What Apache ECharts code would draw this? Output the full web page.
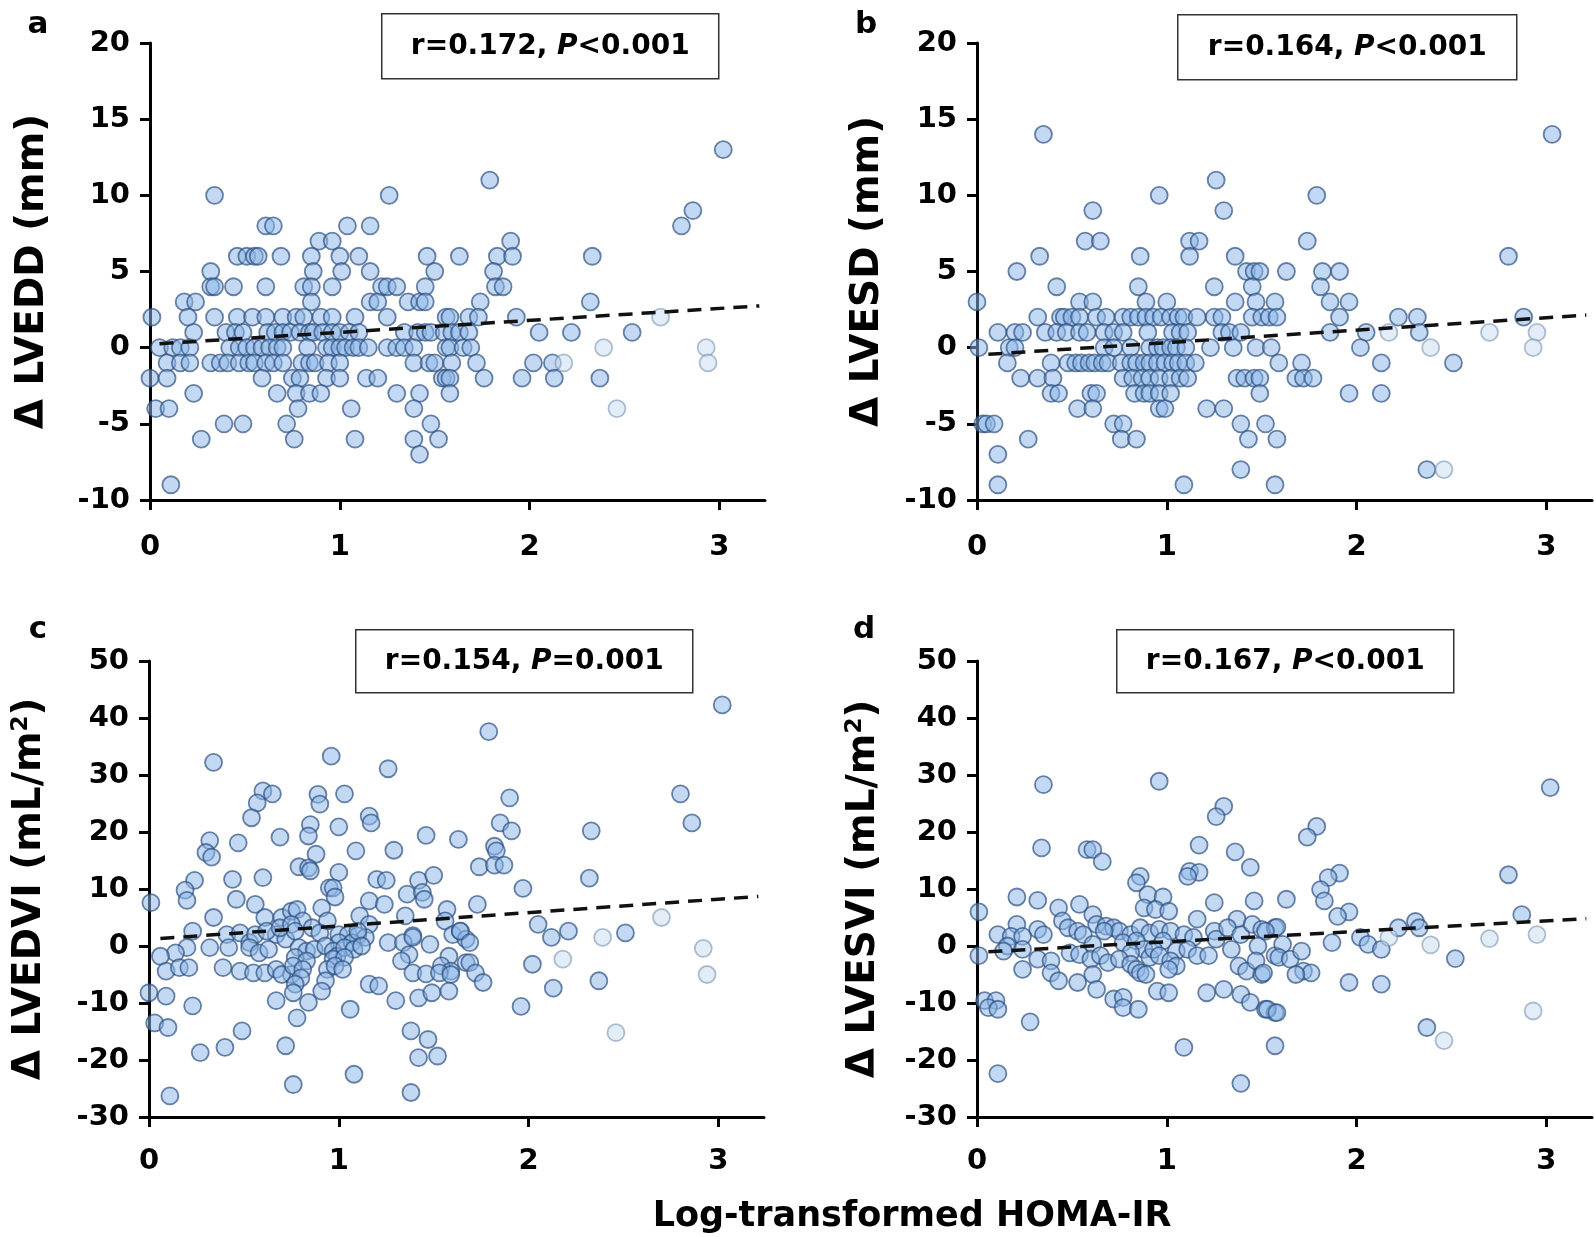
<!DOCTYPE html>
<html>
<head>
<meta charset="utf-8">
<script src="https://cdn.jsdelivr.net/npm/echarts@6/dist/echarts.min.js"></script>
<style>
  html, body { margin: 0; padding: 0; background: #fff; }
  #chart { width: 1594px; height: 1237px; }
</style>
</head>
<body>
<div id="chart"></div>
<script>
// x ticks shared by all panels
var xTicks = [0, 1, 2, 3];

// panel a: delta LVEDD (mm)
var ptsA = [
  [1.79,11],[0.34,10],[1.26,10],[3.02,13],[2.86,9],
  [0.61,8],[0.65,8],[1.04,8],[1.16,8],[2.80,8],
  [0.89,7],[0.96,7],[1.90,7],
  [0.46,6],[0.51,6],[0.55,6],[0.57,6],[0.69,6],[0.85,6],[1.0,6],[1.10,6],[1.46,6],[1.63,6],[1.83,6],[1.91,6],[2.33,6],
  [0.32,5],[0.86,5],[1.01,5],[1.16,5],[1.50,5],[1.81,5],
  [0.32,4],[0.34,4],[0.44,4],[0.61,4],[0.81,4],[0.85,4],[0.96,4],[1.22,4],[1.25,4],[1.30,4],[1.45,4],[1.82,4],[1.86,4],
  [0.18,3],[0.24,3],[0.85,3],[1.16,3],[1.20,3],[1.36,3],[1.42,3],[1.45,3],[1.74,3],[2.32,3],
  [0.01,2],[0.20,2],[0.34,2],[0.46,2],[0.54,2],[0.61,2],[0.70,2],[0.77,2],[0.81,2],[0.90,2],[0.96,2],[1.08,2],[1.25,2],[1.56,2],[1.58,2],[1.68,2],[1.73,2],[1.93,2],
  [0.23,1],[0.40,1],[0.45,1],[0.49,1],[0.62,1],[0.66,1],[0.70,1],[0.74,1],[0.79,1],[0.84,1],[0.86,1],[0.91,1],[0.96,1],[1.0,1],[1.05,1],[1.10,1],[1.34,1],[1.41,1],[1.45,1],[1.48,1],[1.55,1],[1.59,1],[1.63,1],[1.68,1],[2.05,1],[2.22,1],[2.54,1],
  [0.05,0],[0.12,0],[0.16,0],[0.21,0],[0.42,0],[0.47,0],[0.51,0],[0.55,0],[0.59,0],[0.63,0],[0.67,0],[0.70,0],[0.83,0],[0.93,0],[0.96,0],[1.0,0],[1.03,0],[1.07,0],[1.10,0],[1.15,0],[1.25,0],[1.30,0],[1.34,0],[1.39,0],[1.56,0],[1.58,0],[1.65,0],[1.69,0],
  [0.09,-1],[0.16,-1],[0.21,-1],[0.32,-1],[0.37,-1],[0.41,-1],[0.47,-1],[0.52,-1],[0.55,-1],[0.61,-1],[0.65,-1],[0.70,-1],[0.80,-1],[0.84,-1],[0.87,-1],[0.94,-1],[1.0,-1],[1.39,-1],[1.47,-1],[1.50,-1],[1.59,-1],[1.72,-1],[2.02,-1],[2.12,-1],
  [0.0,-2],[0.09,-2],[0.59,-2],[0.75,-2],[0.79,-2],[0.93,-2],[1.0,-2],[1.14,-2],[1.20,-2],[1.54,-2],[1.56,-2],[1.58,-2],[1.76,-2],[1.96,-2],[2.13,-2],[2.37,-2],
  [0.23,-3],[0.67,-3],[0.77,-3],[0.84,-3],[0.90,-3],[1.30,-3],[1.42,-3],[1.58,-3],
  [0.03,-4],[0.10,-4],[0.78,-4],[1.06,-4],[1.39,-4],
  [0.39,-5],[0.49,-5],[0.72,-5],[1.48,-5],
  [0.27,-6],[0.76,-6],[1.08,-6],[1.39,-6],[1.52,-6],
  [1.42,-7],[0.11,-9]
];
var lightA = [[2.69,2],[2.39,0],[2.93,0],[2.18,-1],[2.94,-1],[2.46,-4]];
var trendA = [[0.05,0.26],[3.21,2.74]];

// panel b: delta LVESD (mm)
var ptsB = [
  [0.35,14],[3.03,14],[1.26,11],[0.96,10],[1.79,10],[0.61,9],[1.30,9],
  [0.57,7],[0.65,7],[1.12,7],[1.17,7],[1.74,7],
  [0.33,6],[0.86,6],[1.12,6],[1.36,6],[2.80,6],
  [0.21,5],[1.42,5],[1.46,5],[1.49,5],[1.63,5],[1.82,5],[1.91,5],
  [0.42,4],[0.85,4],[1.25,4],[1.45,4],[1.81,4],
  [0.0,3],[0.54,3],[0.61,3],[0.89,3],[1.0,3],[1.36,3],[1.47,3],[1.57,3],[1.86,3],[1.96,3],
  [0.32,2],[0.44,2],[0.46,2],[0.50,2],[0.54,2],[0.63,2],[0.68,2],[0.77,2],[0.81,2],[0.85,2],[0.89,2],[0.93,2],[0.97,2],[1.02,2],[1.06,2],[1.09,2],[1.16,2],[1.25,2],[1.29,2],[1.45,2],[1.50,2],[1.54,2],[1.58,2],[1.91,2],[2.22,2],[2.32,2],[2.88,2],
  [0.11,1],[0.20,1],[0.24,1],[0.36,1],[0.42,1],[0.47,1],[0.54,1],[0.58,1],[0.67,1],[0.72,1],[0.77,1],[0.90,1],[1.03,1],[1.07,1],[1.11,1],[1.29,1],[1.33,1],[1.39,1],[1.86,1],[2.05,1],[2.33,1],
  [0.01,0],[0.17,0],[0.20,0],[0.67,0],[0.72,0],[0.81,0],[0.91,0],[0.95,0],[0.98,0],[1.02,0],[1.05,0],[1.10,0],[1.23,0],[1.35,0],[1.47,0],[1.55,0],[2.02,0],
  [0.16,-1],[0.39,-1],[0.48,-1],[0.52,-1],[0.55,-1],[0.59,-1],[0.62,-1],[0.66,-1],[0.69,-1],[0.76,-1],[0.81,-1],[0.84,-1],[0.88,-1],[0.91,-1],[0.95,-1],[0.99,-1],[1.03,-1],[1.06,-1],[1.10,-1],[1.15,-1],[1.59,-1],[1.71,-1],[2.13,-1],[2.51,-1],
  [0.23,-2],[0.32,-2],[0.40,-2],[0.77,-2],[0.82,-2],[0.87,-2],[0.91,-2],[0.96,-2],[1.02,-2],[1.07,-2],[1.11,-2],[1.37,-2],[1.41,-2],[1.46,-2],[1.49,-2],[1.68,-2],[1.72,-2],[1.77,-2],
  [0.39,-3],[0.43,-3],[0.60,-3],[0.63,-3],[0.83,-3],[0.88,-3],[0.91,-3],[0.96,-3],[1.02,-3],[1.49,-3],[1.96,-3],[2.13,-3],
  [0.53,-4],[0.61,-4],[0.96,-4],[0.99,-4],[1.21,-4],[1.30,-4],
  [0.03,-5],[0.05,-5],[0.09,-5],[0.72,-5],[0.77,-5],[1.39,-5],[1.52,-5],
  [0.27,-6],[0.76,-6],[0.84,-6],[1.43,-6],[1.58,-6],
  [0.11,-7],[1.39,-8],[2.37,-8],
  [0.11,-9],[1.09,-9],[1.57,-9]
];
var lightB = [[2.17,1],[2.70,1],[2.95,1],[2.39,0],[2.93,0],[2.46,-8]];
var trendB = [[0.06,-0.44],[3.21,2.14]];

// panel c: delta LVEDVI (mL/m2)
var ptsC = [
  [0.34,32.2],[0.96,33.3],[1.26,31.1],[1.79,37.6],[3.02,42.3],
  [0.60,27.2],[0.65,26.7],[0.57,25.1],[0.54,22.5],[0.89,26.6],[0.90,24.9],[1.03,26.7],
  [0.85,21.3],[0.84,19.3],[1.0,20.9],[1.16,22.8],[1.17,21.6],[0.69,19.1],[1.46,19.4],[1.63,18.7],
  [0.32,18.5],[0.30,16.4],[0.33,15.6],[0.47,18.1],[1.09,16.7],[1.29,16.8],
  [0.88,16.1],[0.79,13.9],[0.84,13.7],[0.85,13.2],[1.0,12.9],
  [0.95,10.2],[0.97,10.2],[0.98,8.6],[1.20,11.7],[1.25,11.5],[1.42,11.5],[1.50,12.4],
  [0.24,11.5],[0.19,9.8],[0.20,8.0],[0.44,11.7],[0.60,12.0],[0.46,8.2],[0.56,7.3],[0.01,7.6],
  [1.36,9.1],[1.44,9.4],[1.45,8.2],[1.16,7.9],[1.24,7.3],[0.91,6.7],
  [0.34,5.0],[0.61,5.0],[0.70,5.0],[0.75,6.1],[0.78,6.4],[0.81,4.4],[0.94,4.4],[1.11,5.3],[1.16,3.8],[1.35,5.3],[1.57,6.4],[1.56,4.4],
  [0.23,2.6],[0.41,2.0],[0.48,2.3],[0.67,2.0],[0.72,1.2],[1.0,2.0],[1.05,2.0],[1.10,1.8],[1.14,1.5],[1.39,1.8],[1.60,2.0],[1.64,2.6],[1.67,1.2],
  [0.53,0.6],[0.56,2.0],[0.62,2.6],[0.69,3.2],[0.75,3.8],[0.77,2.6],[0.86,3.2],[0.90,2.3],[1.0,0.6],[1.07,0.6],[1.10,2.6],
  [0.32,-0.3],[0.20,-0.3],[0.14,-1.2],[0.06,-1.8],[0.42,-0.3],[0.53,-0.3],[0.58,-1.2],[0.63,-0.6],
  [0.79,-0.3],[0.83,-0.9],[0.87,-0.6],[0.93,0],[0.97,-0.9],[0.99,-1.8],[1.03,-0.3],[1.08,-0.6],[1.12,0],
  [0.97,-2.3],[1.03,-2.0],[0.77,-2.0],[0.75,-5.0],[0.83,-2.6],
  [1.26,0.6],[1.34,0.6],[1.39,1.5],[1.48,0.3],[1.37,-1.5],[1.33,-2.6],[1.58,-1.8],[1.54,-3.5],[1.59,-4.4],[1.67,-2.9],
  [0.09,-4.4],[0.16,-3.8],[0.21,-3.8],[0.39,-3.8],[0.48,-4.4],[0.55,-4.7],[0.61,-4.7],[0.67,-4.1],[0.70,-5.0],
  [0.76,-3.5],[0.81,-4.1],[0.80,-5.6],[0.94,-4.1],[0.98,-3.5],[1.02,-4.1],
  [1.39,-4.7],[1.46,-4.9],[1.53,-4.7],[1.59,-5.0],
  [0.93,-6.1],[0.77,-6.7],[0.76,-8.2],[0.91,-7.9],[1.16,-6.7],[1.21,-7.0],
  [0.0,-8.2],[0.09,-8.8],[0.23,-10.5],[0.67,-9.6],[0.84,-9.9],[1.06,-11.1],[1.30,-9.6],[1.42,-9.1],[1.49,-8.2],[1.58,-7.9],
  [0.78,-12.6],[0.03,-13.5],[0.10,-14.3],[0.49,-14.9],[0.40,-17.8],[0.27,-18.7],[0.72,-17.5],
  [1.38,-14.9],[1.47,-16.4],[1.52,-19.3],[1.42,-19.6],[1.08,-22.5],[0.76,-24.3],[1.38,-25.7],[0.11,-26.3],
  [1.90,26.0],[1.85,21.6],[1.91,20.2],[1.82,17.5],[1.83,16.7],[1.74,13.9],[1.82,14.2],[1.87,14.2],
  [2.33,20.2],[2.32,11.9],[2.80,26.7],[2.86,21.6],[1.97,10.1],[1.73,7.3],
  [2.05,3.8],[1.64,2.6],[1.69,0.6],[2.12,1.5],[2.21,2.6],[2.51,2.3],
  [1.69,-2.9],[1.72,-4.7],[1.76,-6.4],[2.02,-3.2],[2.37,-6.1],[2.13,-7.4],[1.96,-10.6]
];
var lightC = [[2.39,1.5],[2.70,5.0],[2.92,-0.4],[2.94,-5.0],[2.18,-2.3],[2.46,-15.2]];
var trendC = [[0.06,1.3],[3.21,8.7]];

// panel d: delta LVESVI (mL/m2)
var ptsD = [
  [0.35,28.3],[0.96,28.9],[1.30,24.5],[1.26,22.7],[3.02,27.8],
  [0.34,17.2],[0.58,16.9],[0.61,16.9],[0.66,14.8],[1.17,17.7],[1.36,16.5],[1.44,13.8],
  [0.86,12.2],[0.84,11.1],[1.12,13.1],[1.17,12.9],[1.11,12.2],
  [0.21,8.6],[0.32,8.0],[0.90,9.0],[0.98,8.6],[1.25,7.6],[1.46,7.9],
  [0.01,6.0],[0.43,6.7],[0.54,7.3],[0.61,5.5],[0.88,6.7],[0.94,6.4],[1.01,6.1],[1.16,4.7],[1.37,4.7],
  [0.21,3.8],[0.32,2.9],[0.35,2.0],[0.11,2.0],[0.18,1.7],[0.24,1.7],[0.45,4.4],[0.48,3.2],[0.53,2.6],
  [0.63,3.8],[0.68,3.5],[0.72,3.2],[0.75,2.6],[0.81,2.0],[0.86,3.2],[0.91,2.3],[0.96,2.9],[1.02,2.6],[1.09,2.0],[1.14,1.5],
  [1.25,2.6],[1.26,1.2],[1.32,3.2],[1.39,2.0],[1.45,3.8],[1.50,2.9],[1.57,3.2],
  [0.67,2.6],[0.77,0.6],[0.84,0.9],[0.88,-0.6],[0.81,-1.2],[0.98,0.9],[1.05,-0.9],[0.91,-2.0],[0.56,2.0],[0.61,0.3],
  [0.16,0],[0.24,-0.6],[0.14,-0.9],[0.01,-1.7],[0.32,-2.3],[0.39,-2.6],
  [0.49,-1.2],[0.54,-1.5],[0.60,-2.3],[0.65,-1.7],[0.69,-2.9],[0.75,-2.3],[0.81,-3.2],[0.84,-4.1],
  [0.93,-0.6],[0.96,-1.7],[1.02,-2.6],[1.05,-3.5],[1.11,-0.6],[1.16,-1.7],[1.22,-1.7],
  [1.34,-0.6],[1.48,0],[1.57,-1.7],
  [0.24,-4.1],[0.39,-4.7],[0.43,-6.1],[0.53,-6.4],[0.61,-5.0],[0.63,-7.6],
  [0.86,-4.7],[0.89,-5.0],[1.01,-4.1],[0.95,-7.9],[1.01,-8.2],
  [1.38,-3.5],[1.42,-4.4],[1.47,-2.6],[1.50,-5.0],
  [1.21,-8.2],[1.30,-7.6],[1.39,-8.5],[1.44,-9.9],[1.52,-11.1],[1.57,-11.7],
  [0.04,-9.6],[0.10,-9.6],[0.06,-10.8],[0.11,-11.1],
  [0.72,-9.3],[0.77,-9.0],[0.77,-10.8],[0.85,-11.1],
  [0.28,-13.3],[1.09,-17.8],[1.57,-17.5],[0.11,-22.4],[1.39,-24.1],
  [1.79,21.0],[1.74,19.1],[1.91,12.8],[1.85,12.0],[1.81,9.9],[1.83,7.9],[1.63,8.2],
  [1.96,6.0],[1.90,5.2],[2.80,12.5],[2.87,5.5],
  [2.31,4.3],[2.33,3.2],[2.22,3.2],[2.52,-2.2],
  [2.02,1.5],[2.06,0.3],[2.13,-0.6],[1.87,0.6],[1.58,3.3],[1.61,0.3],[1.52,2.6],
  [1.59,-2.0],[1.65,-2.3],[1.71,-0.9],[1.72,-4.4],[1.76,-4.7],[1.68,-5.0],[1.51,-4.7],
  [1.96,-6.4],[2.13,-6.7],[1.53,-11.1],[1.58,-11.7],[2.37,-14.3]
];
var lightD = [[2.95,2.0],[2.70,1.3],[2.17,1.5],[2.39,0.2],[2.46,-16.6],[2.93,-11.4]];
var trendD = [[0.06,-1.0],[3.21,4.8]];

var FONT = 'DejaVu Sans';
var chart = echarts.init(document.getElementById('chart'));

var grids = [
  { left: 150, top: 43, width: 615, height: 457 },
  { left: 977, top: 43, width: 615, height: 457 },
  { left: 149, top: 661, width: 615, height: 456 },
  { left: 977, top: 661, width: 615, height: 456 }
];

function xAx(i, margin) {
  return {
    gridIndex: i, type: 'value', min: 0, max: 3.24,
    axisLine: { onZero: false, lineStyle: { color: '#000', width: 3 } },
    axisTick: { customValues: xTicks, length: 10, lineStyle: { color: '#000', width: 3 } },
    axisLabel: { customValues: xTicks, margin: margin, color: '#000', fontFamily: FONT, fontWeight: 'bold', fontSize: 29 },
    splitLine: { show: false }
  };
}

function yAx(i, min, max, interval, name, gap) {
  return {
    gridIndex: i, type: 'value', min: min, max: max, interval: interval,
    name: name, nameLocation: 'middle', nameGap: gap,
    nameTextStyle: {
      color: '#000', fontFamily: FONT, fontWeight: 'bold', fontSize: 39,
      rich: { sup: { fontFamily: FONT, fontWeight: 'bold', fontSize: 23, verticalAlign: 'top', padding: [0, 0, 14, 0] } }
    },
    axisLine: { onZero: false, lineStyle: { color: '#000', width: 3 } },
    axisTick: { length: 10, lineStyle: { color: '#000', width: 3 } },
    axisLabel: { margin: 20, color: '#000', fontFamily: FONT, fontWeight: 'bold', fontSize: 29 },
    splitLine: { show: false }
  };
}

var dotStyle = { color: 'rgba(140,183,232,0.66)', borderColor: 'rgba(45,80,128,0.88)', borderWidth: 1.8 };
var lightStyle = { color: 'rgba(205,223,243,0.7)', borderColor: 'rgba(115,140,170,0.7)', borderWidth: 1.8 };

function panelSeries(i, pts, light, trend) {
  return [
    { type: 'scatter', xAxisIndex: i, yAxisIndex: i, symbolSize: 17, itemStyle: dotStyle, data: pts, silent: true },
    { type: 'scatter', xAxisIndex: i, yAxisIndex: i, symbolSize: 17, itemStyle: lightStyle, data: light, silent: true },
    { type: 'line', xAxisIndex: i, yAxisIndex: i, showSymbol: false, symbol: 'none', z: 5,
      lineStyle: { color: '#111', width: 3.5, type: [14, 9] }, data: trend, silent: true }
  ];
}

function statBox(x, y, w, h, r, sign, p) {
  return {
    type: 'group', left: x, top: y,
    children: [
      { type: 'rect', shape: { x: 0, y: 0, width: w, height: h }, style: { fill: '#fff', stroke: '#333', lineWidth: 1.5 } },
      { type: 'text', x: w / 2, y: h / 2,
        style: {
          text: 'r=' + r + ', {i|P}' + sign + p,
          align: 'center', verticalAlign: 'middle',
          fontFamily: FONT, fontWeight: 'bold', fontSize: 28, fill: '#000',
          rich: { i: { fontFamily: FONT, fontWeight: 'bold', fontStyle: 'italic', fontSize: 28, fill: '#000' } }
        } }
    ]
  };
}

function letter(t, x, y) {
  return { type: 'text', x: x, y: y, style: { text: t, fontFamily: FONT, fontWeight: 'bold', fontSize: 31, fill: '#000', align: 'center', verticalAlign: 'middle' } };
}

var option = {
  backgroundColor: '#fff',
  animation: false,
  grid: grids,
  xAxis: [xAx(0, 33), xAx(1, 33), xAx(2, 30), xAx(3, 30)],
  yAxis: [
    yAx(0, -10, 20, 5, 'Δ LVEDD (mm)', 98),
    yAx(1, -10, 20, 5, 'Δ LVESD (mm)', 90),
    yAx(2, -30, 50, 10, 'Δ LVEDVI (mL/m{sup|2})', 100),
    yAx(3, -30, 50, 10, 'Δ LVESVI (mL/m{sup|2})', 94)
  ],
  series: [].concat(
    panelSeries(0, ptsA, lightA, trendA),
    panelSeries(1, ptsB, lightB, trendB),
    panelSeries(2, ptsC, lightC, trendC),
    panelSeries(3, ptsD, lightD, trendD)
  ),
  graphic: [
    letter('a', 38, 25), letter('b', 866, 25), letter('c', 38, 630), letter('d', 864, 630),
    statBox(381, 13, 337, 65, '0.172', '<', '0.001'),
    statBox(1177, 14, 339, 65, '0.164', '<', '0.001'),
    statBox(355, 629, 337, 63, '0.154', '=', '0.001'),
    statBox(1116, 629, 337, 63, '0.167', '<', '0.001'),
    { type: 'text', x: 912, y: 1217,
      style: { text: 'Log-transformed HOMA-IR', fontFamily: FONT, fontWeight: 'bold', fontSize: 35, fill: '#000', align: 'center', verticalAlign: 'middle' } }
  ]
};

chart.setOption(option);
</script>
</body>
</html>
